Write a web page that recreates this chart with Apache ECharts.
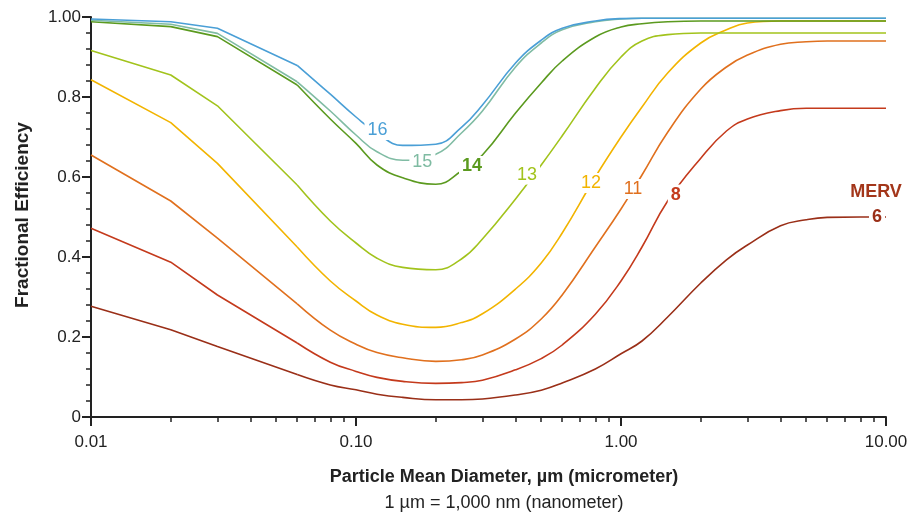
<!DOCTYPE html>
<html>
<head>
<meta charset="utf-8">
<title>Fractional Efficiency by MERV</title>
<script src="https://cdn.jsdelivr.net/npm/echarts@6/dist/echarts.min.js"></script>
<style>
  html, body { margin: 0; padding: 0; background: #fff; }
  #chart { width: 911px; height: 515px; }
</style>
</head>
<body>
<div id="chart"></div>
<script>
// particle mean diameter, µm
const diameters = [0.01, 0.02, 0.03, 0.06, 0.08, 0.1, 0.12, 0.15, 0.2, 0.25, 0.3, 0.4, 0.5, 0.6, 0.8, 1, 1.2, 1.5, 2, 2.5, 3, 4, 5, 6, 8, 10];

// fractional efficiency per MERV rating
const merv16 = [0.995, 0.988, 0.972, 0.879, 0.807, 0.75, 0.71, 0.679, 0.682, 0.724, 0.78, 0.885, 0.942, 0.972, 0.99, 0.996, 0.997, 0.997, 0.997, 0.997, 0.997, 0.997, 0.997, 0.997, 0.997, 0.997];
const merv15 = [0.992, 0.982, 0.959, 0.838, 0.765, 0.705, 0.663, 0.642, 0.657, 0.71, 0.765, 0.875, 0.935, 0.968, 0.988, 0.995, 0.997, 0.997, 0.997, 0.997, 0.997, 0.997, 0.997, 0.997, 0.997, 0.997];
const merv14 = [0.988, 0.976, 0.951, 0.83, 0.745, 0.684, 0.63, 0.598, 0.582, 0.615, 0.655, 0.76, 0.835, 0.89, 0.95, 0.975, 0.983, 0.988, 0.99, 0.99, 0.99, 0.99, 0.99, 0.99, 0.99, 0.99];
const merv13 = [0.916, 0.855, 0.778, 0.58, 0.49, 0.435, 0.397, 0.374, 0.368, 0.395, 0.445, 0.545, 0.63, 0.703, 0.822, 0.9, 0.94, 0.956, 0.96, 0.96, 0.96, 0.96, 0.96, 0.96, 0.96, 0.96];
const merv12 = [0.843, 0.736, 0.634, 0.425, 0.34, 0.29, 0.255, 0.232, 0.224, 0.236, 0.258, 0.32, 0.385, 0.46, 0.6, 0.7, 0.775, 0.86, 0.935, 0.968, 0.985, 0.99, 0.99, 0.99, 0.99, 0.99];
const merv11 = [0.655, 0.54, 0.447, 0.283, 0.217, 0.182, 0.161, 0.148, 0.139, 0.143, 0.155, 0.195, 0.245, 0.305, 0.425, 0.52, 0.605, 0.712, 0.82, 0.875, 0.905, 0.932, 0.938, 0.94, 0.94, 0.94];
const merv8 = [0.472, 0.387, 0.305, 0.185, 0.137, 0.114, 0.099, 0.089, 0.084, 0.086, 0.092, 0.118, 0.146, 0.18, 0.257, 0.34, 0.425, 0.54, 0.647, 0.715, 0.745, 0.766, 0.772, 0.772, 0.772, 0.772];
const merv6 = [0.277, 0.218, 0.176, 0.106, 0.08, 0.068, 0.057, 0.049, 0.043, 0.043, 0.045, 0.055, 0.067, 0.085, 0.12, 0.158, 0.19, 0.25, 0.335, 0.393, 0.43, 0.478, 0.493, 0.499, 0.5, 0.5];

const mervNames = ['16', '15', '14', '13', '12', '11', '8', '6'];
const mervValues = [merv16, merv15, merv14, merv13, merv12, merv11, merv8, merv6];
const mervColors = ['#4a9fd6', '#80bca4', '#5b9a1f', '#a2c31c', '#f2b400', '#e0701e', '#c43a1c', '#9a2f18'];

// in-line curve labels: text and where they sit (diameter, efficiency)
const labelNames = ['16', '15', '14', '13', '12', '11', '8', 'MERV', '6'];
const labelAt = [[0.1205, 0.7175], [0.178, 0.6375], [0.274, 0.6275], [0.442, 0.606], [0.77, 0.585], [1.11, 0.57], [1.61, 0.556], [9.17, 0.5625], [9.25, 0.499]];

// axis ticks
const xMajorTicks = [0.01, 0.1, 1, 10];

// the first points (0.01 - 0.06) are joined by straight segments, the rest is a smooth curve
const KINK_INDEX = 3;

const FONT = '"Liberation Sans", Arial, Helvetica, sans-serif';

// log minor ticks (2..9 in every decade), placed on a helper value axis in log10 space
const minorTicks = [];
for (let d = 0; d < xMajorTicks.length - 1; d++) {
  for (let k = 2; k <= 9; k++) minorTicks.push(Math.log10(k * xMajorTicks[d]));
}

const labelColors = { '16': '#4a9fd6', '15': '#7fbba2', '14': '#5b9a1f', '13': '#a2c31c', '12': '#f2b400', '11': '#e0701e', '8': '#c43a1c', 'MERV': '#a3361a', '6': '#9a2f18' };
const labelBold = { '14': true, '8': true, 'MERV': true, '6': true };

var chartDom = document.getElementById('chart');
var myChart = echarts.init(chartDom, null, { renderer: 'canvas' });

const series = [];
mervNames.slice().reverse().forEach(name => {
  const i = mervNames.indexOf(name);
  const points = diameters.map((d, j) => [d, mervValues[i][j]]);
  const base = {
    name: 'MERV ' + name,
    type: 'line',
    xAxisIndex: 0,
    yAxisIndex: 0,
    showSymbol: false,
    symbol: 'none',
    silent: true,
    lineStyle: { color: mervColors[i], width: 1.6 }
  };
  series.push(Object.assign({}, base, { smooth: false, data: points.slice(0, KINK_INDEX + 1) }));
  series.push(Object.assign({}, base, { smooth: 0.45, data: points.slice(KINK_INDEX) }));
});

series.push({
  name: 'labels',
  type: 'scatter',
  xAxisIndex: 0,
  yAxisIndex: 0,
  symbolSize: 2,
  itemStyle: { color: 'rgba(255,255,255,0)', opacity: 1 },
  silent: true,
  clip: false,
  z: 10,
  data: labelNames.map((n, i) => ({
    name: n,
    value: labelAt[i],
    label: {
      color: labelColors[n],
      fontWeight: labelBold[n] ? 'bold' : 'normal'
    }
  })),
  label: {
    show: true,
    position: 'inside',
    formatter: p => p.name,
    fontFamily: FONT,
    fontSize: 18,
    opacity: 1,
    backgroundColor: '#fff',
    padding: [1, 3]
  }
});

const option = {
  animation: false,
  backgroundColor: '#fff',
  grid: { left: 91, right: 25, top: 17, height: 400 },
  xAxis: [
    {
      type: 'log',
      logBase: 10,
      min: 0.01,
      max: 10,
      position: 'bottom',
      axisLine: { show: true, onZero: false, lineStyle: { color: '#222', width: 2 } },
      axisTick: { show: true, length: 9, lineStyle: { color: '#222', width: 2 } },
      axisLabel: {
        margin: 17,
        fontSize: 17,
        fontFamily: FONT,
        color: '#222',
        formatter: v => v.toFixed(2)
      },
      splitLine: { show: false }
    },
    {
      // helper axis only for the log minor ticks
      type: 'value',
      min: -2,
      max: 1,
      position: 'top',
      offset: -400,
      axisLine: { show: false, onZero: false },
      axisTick: { show: true, inside: true, length: 5, customValues: minorTicks, lineStyle: { color: '#222', width: 1.5 } },
      axisLabel: { show: false },
      splitLine: { show: false }
    }
  ],
  yAxis: {
    type: 'value',
    min: 0,
    max: 1,
    interval: 0.2,
    axisLine: { show: true, onZero: false, lineStyle: { color: '#222', width: 2 } },
    axisTick: { show: true, length: 9, lineStyle: { color: '#222', width: 2 } },
    minorTick: { show: true, splitNumber: 5, length: 5, lineStyle: { color: '#222', width: 1.5 } },
    axisLabel: {
      margin: 10,
      fontSize: 17,
      fontFamily: FONT,
      color: '#222',
      formatter: v => (v === 0 ? '0' : v === 1 ? '1.00' : v.toFixed(1))
    },
    splitLine: { show: false }
  },
  graphic: [
    {
      type: 'text',
      x: 23,
      y: 215,
      rotation: Math.PI / 2,
      style: {
        text: 'Fractional Efficiency',
        fontFamily: FONT,
        fontSize: 19,
        fontWeight: 'bold',
        fill: '#222',
        textAlign: 'center',
        textVerticalAlign: 'middle'
      }
    },
    {
      type: 'text',
      x: 504,
      y: 477,
      style: {
        text: 'Particle Mean Diameter, µm (micrometer)',
        fontFamily: FONT,
        fontSize: 18,
        fontWeight: 'bold',
        fill: '#222',
        textAlign: 'center',
        textVerticalAlign: 'middle'
      }
    },
    {
      type: 'text',
      x: 504,
      y: 503,
      style: {
        text: '1 µm = 1,000 nm (nanometer)',
        fontFamily: FONT,
        fontSize: 18,
        fill: '#222',
        textAlign: 'center',
        textVerticalAlign: 'middle'
      }
    }
  ],
  series: series
};

option && myChart.setOption(option);
</script>
</body>
</html>
